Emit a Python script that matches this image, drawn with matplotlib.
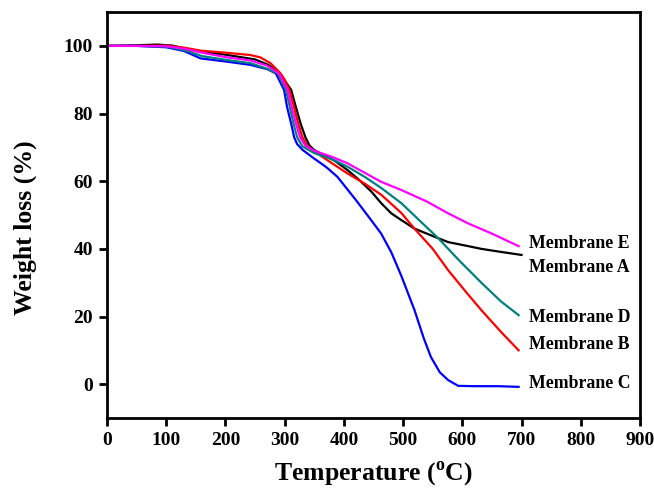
# TGA curves for membranes A-E
import numpy as np
import matplotlib.pyplot as plt

plt.rcParams['font.family'] = 'Liberation Serif'
plt.rcParams['font.weight'] = 'bold'
plt.rcParams['mathtext.fontset'] = 'custom'
plt.rcParams['mathtext.rm'] = 'Liberation Serif:bold'

# membrane A (black)
temp_a = [0, 50, 85, 110, 150, 200, 250, 271, 285, 295, 305, 311, 318, 327, 335, 342, 350, 365, 385,
          406, 425, 446, 463, 480, 497, 519, 550, 576, 610, 632, 665, 700]
wt_a = [100, 100.2, 100.4, 100.1, 98.5, 97.4, 96, 94.5, 93, 91, 88.5, 87, 82.5, 77, 73, 70.5, 69.2, 67.8, 66,
        63.3, 60.5, 57, 53.5, 50.5, 48.5, 46, 43.8, 42, 40.8, 40, 39.1, 38.2]

# membrane B (red)
temp_b = [0, 50, 100, 130, 158, 200, 242, 259, 276, 293, 300, 308, 315, 323, 330, 338, 350, 380, 406,
          435, 463, 497, 519, 550, 576, 605, 632, 665, 695]
wt_b = [100, 100, 100.1, 99.5, 98.6, 98, 97.3, 96.6, 94.9, 91.9, 90, 87, 82.5, 77, 73, 70.5, 68.8, 65.3, 62.3,
        59.3, 56, 50.6, 46, 40, 33.7, 27.5, 21.9, 15.5, 10]

# membrane C (blue)
temp_c = [0, 50, 100, 130, 158, 200, 242, 271, 285, 299, 304, 311, 316, 321, 330, 349, 370, 389, 420,
          446, 463, 480, 497, 519, 535, 547, 562, 576, 593, 620, 660, 695]
wt_c = [100, 100, 99.6, 98.5, 96.3, 95.4, 94.4, 93.1, 91.9, 87, 82, 77, 73, 71, 69.3, 66.8, 64.2, 61.3, 54.5,
        48.5, 44.5, 39, 32, 22, 13.5, 8, 3.5, 1.2, -0.5, -0.6, -0.6, -0.8]

# membrane D (teal)
temp_d = [0, 50, 100, 130, 160, 200, 242, 268, 288, 302, 308, 315, 321, 330, 350, 380, 406, 435,
          463, 497, 530, 559, 595, 632, 665, 695]
wt_d = [100, 100, 99.8, 98.8, 97, 95.9, 94.9, 93.4, 91.9, 87, 82.5, 77, 73, 70.3, 68.3, 66.5, 64.3, 61.3,
        58, 53.5, 48, 43.2, 36.5, 30, 24.5, 20.4]

# membrane E (magenta)
temp_e = [0, 50, 100, 130, 160, 200, 242, 270, 290, 305, 311, 319, 326, 335, 350, 380, 406, 435,
          463, 497, 540, 576, 610, 650, 695]
wt_e = [100, 100, 99.9, 99.2, 98, 96.7, 95.7, 94.2, 91.9, 87, 82.5, 77, 73, 70.5, 69, 67.2, 65.3, 62.5,
        59.8, 57.4, 54, 50.5, 47.5, 44.5, 40.8]

labels = ['Membrane E', 'Membrane A', 'Membrane D', 'Membrane B', 'Membrane C']
label_y = [41.7, 34.6, 19.8, 11.8, 0.3]

fig = plt.figure(figsize=(6.54, 4.95), dpi=100)
ax = fig.add_axes([0.1636, 0.1556, 0.815, 0.82])

ax.plot(temp_a, wt_a, color='black', lw=1.6)
ax.plot(temp_b, wt_b, color='#ff0000', lw=1.6)
ax.plot(temp_c, wt_c, color='#0000ff', lw=1.6)
ax.plot(temp_d, wt_d, color='#008080', lw=1.6)
ax.plot(temp_e, wt_e, color='#ff00ff', lw=1.6)

for lab, yy in zip(labels, label_y):
    ax.text(712, yy, lab, fontsize=12.8, fontweight='bold', va='center', ha='left')

ax.set_xlim(0, 900)
ax.set_ylim(-10, 110)
ax.set_xticks(np.arange(0, 901, 100))
ax.set_yticks(np.arange(0, 101, 20))
ax.tick_params(direction='out', length=6, width=2, labelsize=14, pad=4)
for lbl in ax.get_xticklabels() + ax.get_yticklabels():
    lbl.set_fontweight('bold')
for sp in ax.spines.values():
    sp.set_linewidth(2)

ax.set_xlabel(r'Temperature ($^{\mathrm{o}}$C)', fontsize=18.5, fontweight='bold', labelpad=7)
ax.set_ylabel('Weight loss (%)', fontsize=18.5, fontweight='bold')
ax.yaxis.set_label_coords(-0.131, 0.47)

fig.savefig('out.png', dpi=100)
